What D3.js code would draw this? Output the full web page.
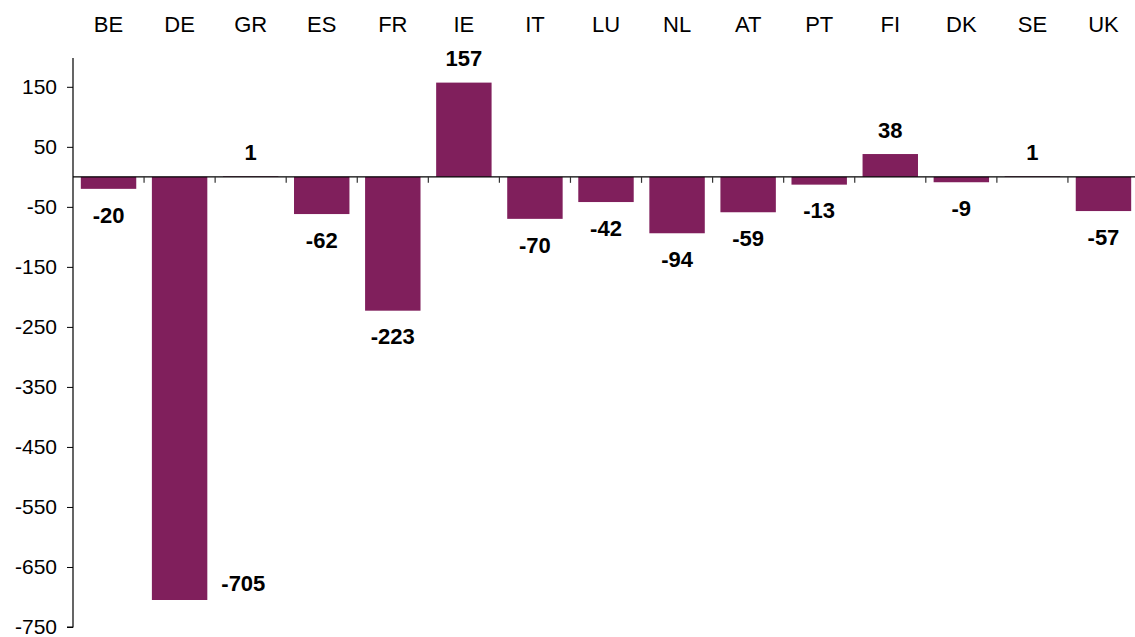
<!DOCTYPE html>
<html lang="en">
<head>
<meta charset="UTF-8">
<title>Bar chart</title>
<style>
  body { margin: 0; background: #fff; }
  svg { display: block; }
  text { font-family: "Liberation Sans", Arial, sans-serif; }
</style>
</head>
<body>
<svg id="chart" width="1135" height="637"></svg>
<script src="https://d3js.org/d3.v7.min.js"></script>
<script>
// data
const countries = ["BE", "DE", "GR", "ES", "FR", "IE", "IT", "LU", "NL", "AT", "PT", "FI", "DK", "SE", "UK"];
const values = [-20, -705, 1, -62, -223, 157, -70, -42, -94, -59, -13, 38, -9, 1, -57];
const yTicks = [150, 50, -50, -150, -250, -350, -450, -550, -650, -750];

const svg = d3.select("#chart");
const barColor = "#801F5C";

// scales
const x = d3.scaleBand()
    .domain(countries)
    .range([73, 1139])
    .paddingInner(0.22)
    .paddingOuter(0.11);

const y = d3.scaleLinear()
    .domain([-750, 198])
    .range([627, 58]);

// y axis
const yAxis = d3.axisLeft(y)
    .tickValues(yTicks)
    .tickSize(6)
    .tickPadding(10)
    .tickFormat(d => String(d));

const yg = svg.append("g")
    .attr("transform", "translate(73,0)")
    .call(yAxis);
yg.select(".domain").attr("stroke", "#000").attr("stroke-width", 1.2).attr("d", `M-6,${y(-750)}H0V${y(198)}`);
yg.selectAll(".tick line").attr("stroke", "#000");
yg.selectAll(".tick text")
    .attr("font-size", 21)
    .attr("fill", "#000")
    .style("font-family", "'Liberation Sans', Arial, sans-serif");

// bars
svg.append("g").selectAll("rect")
    .data(values)
    .join("rect")
    .attr("x", (d, i) => x(countries[i]))
    .attr("width", x.bandwidth())
    .attr("y", d => y(Math.max(0, d)))
    .attr("height", d => Math.abs(y(d) - y(0)))
    .attr("fill", barColor);

// zero line with category separator ticks
svg.append("line")
    .attr("x1", 73).attr("x2", 1135)
    .attr("y1", y(0)).attr("y2", y(0))
    .attr("stroke", "#000").attr("stroke-width", 1.2);

const step = x.step();
const seps = countries.slice(1).map(c => x(c) - (step - x.bandwidth()) / 2);
svg.append("g").selectAll("line")
    .data(seps)
    .join("line")
    .attr("x1", d => d).attr("x2", d => d)
    .attr("y1", y(0)).attr("y2", y(0) + 6)
    .attr("stroke", "#333").attr("stroke-width", 1.2);

// category labels on top
svg.append("g").selectAll("text")
    .data(countries)
    .join("text")
    .attr("x", d => x(d) + x.bandwidth() / 2)
    .attr("y", 24)
    .attr("dy", "0.35em")
    .attr("text-anchor", "middle")
    .attr("font-size", 22)
    .attr("fill", "#000")
    .text(d => d);

// value labels
svg.append("g").selectAll("text")
    .data(values)
    .join("text")
    .each(function(d, i) {
        const t = d3.select(this);
        const cx = x(countries[i]) + x.bandwidth() / 2;
        if (y(d) + 30 > y(-750)) {
            // no room under the bar, put it beside
            t.attr("x", x(countries[i]) + x.bandwidth() + 14)
             .attr("y", y(d) - 17)
             .attr("text-anchor", "start");
        } else {
            t.attr("x", cx)
             .attr("y", d >= 0 ? y(d) - 24 : y(d) + 26)
             .attr("text-anchor", "middle");
        }
    })
    .attr("dy", "0.35em")
    .attr("font-size", 22)
    .attr("font-weight", "bold")
    .attr("fill", "#000")
    .text(d => d);
</script>
</body>
</html>
